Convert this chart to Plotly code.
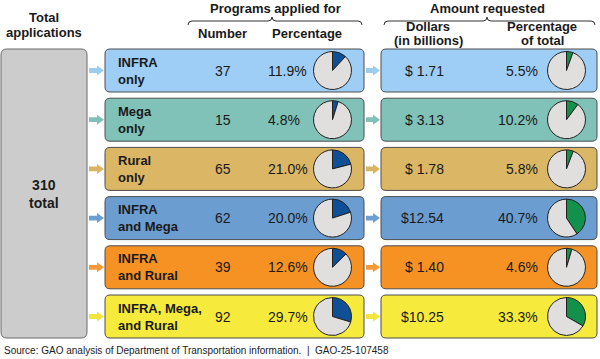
import plotly.graph_objects as go

# ---------------- data ----------------
categories = ["INFRA<br>only", "Mega<br>only", "Rural<br>only",
              "INFRA<br>and Mega", "INFRA<br>and Rural", "INFRA, Mega,<br>and Rural"]
app_counts = [37, 15, 65, 62, 39, 92]
app_pcts = [11.9, 4.8, 21.0, 20.0, 12.6, 29.7]
dollars_bn = [1.71, 3.13, 1.78, 12.54, 1.40, 10.25]
dollar_pcts = [5.5, 10.2, 5.8, 40.7, 4.6, 33.3]
total_apps = 310
row_colors = ["#9ecdf6", "#80c1b8", "#dab665", "#6b9dd1", "#f69224", "#f6eb3c"]
arrow_colors = ["#9dcdee", "#7fc0b9", "#d9b462", "#6c9fd1", "#f59a36", "#f1e53e"]

source_text = "Source: GAO analysis of Department of Transportation information.\u00a0\u00a0|\u00a0\u00a0GAO-25-107458"

# ---------------- layout geometry (pixels) ----------------
W, H = 600, 359
FONT = "Arial, Liberation Sans, sans-serif"
TXT = "#1a1a1a"
row_top0, row_pitch, row_h = 49, 49.2, 43
L0, L1 = 105, 364      # left box
R0, R1 = 381, 597      # right box
pie_r = 19
pie_left_cx, pie_right_cx = 332.5, 566.5


def rrect(x0, y0, x1, y1, r):
    return (f"M{x0+r},{y0} L{x1-r},{y0} Q{x1},{y0} {x1},{y0+r} "
            f"L{x1},{y1-r} Q{x1},{y1} {x1-r},{y1} L{x0+r},{y1} "
            f"Q{x0},{y1} {x0},{y1-r} L{x0},{y0+r} Q{x0},{y0} {x0+r},{y0} Z")


def arrow(x0, x1, cy):
    hx = x1 - 7
    return (f"M{x0},{cy-2.4} L{hx},{cy-2.4} L{hx},{cy-5} L{x1},{cy} "
            f"L{hx},{cy+5} L{hx},{cy+2.4} L{x0},{cy+2.4} Z")


shapes = []
annotations = []
fig = go.Figure()

# gray total box
last_bottom = row_top0 + row_pitch * (len(categories) - 1) + row_h
shapes.append(dict(type="path", path=rrect(1, row_top0, 87, last_bottom, 6),
                   fillcolor="#cccccc", line=dict(color="#6a6a6a", width=1),
                   xref="x", yref="y", layer="below"))
annotations.append(dict(x=44, y=(row_top0 + last_bottom) / 2, text=f"<b>{total_apps}<br>total</b>",
                        showarrow=False, font=dict(family=FONT, size=14, color=TXT),
                        xanchor="center", yanchor="middle"))

for i, cat in enumerate(categories):
    top = row_top0 + row_pitch * i
    bot = top + row_h
    cy = (top + bot) / 2
    col = row_colors[i]
    # boxes
    for (a, b) in [(L0, L1), (R0, R1)]:
        shapes.append(dict(type="path", path=rrect(a, top, b, bot, 5), fillcolor=col,
                           line=dict(color="#4d4d4d", width=1), xref="x", yref="y", layer="below"))
    # arrows
    shapes.append(dict(type="path", path=arrow(89, 104, cy), fillcolor=arrow_colors[i],
                       line=dict(width=0), xref="x", yref="y", layer="below"))
    shapes.append(dict(type="path", path=arrow(366, 380, cy), fillcolor=arrow_colors[i],
                       line=dict(width=0), xref="x", yref="y", layer="below"))
    # label
    annotations.append(dict(x=116, y=cy, text=f"<b>{cat}</b>", showarrow=False, align="left",
                            font=dict(family=FONT, size=13, color=TXT),
                            xanchor="left", yanchor="middle"))
    # values
    annotations.append(dict(x=213, y=cy, text=f"{app_counts[i]}", showarrow=False,
                            font=dict(family=FONT, size=14, color=TXT), xanchor="left", yanchor="middle"))
    annotations.append(dict(x=266, y=cy, text=f"{app_pcts[i]:.1f}%", showarrow=False,
                            font=dict(family=FONT, size=14, color=TXT), xanchor="left", yanchor="middle"))
    annotations.append(dict(x=446, y=cy, text=f"${dollars_bn[i]:5.2f}".replace(" ", "\u00a0"),
                            showarrow=False, font=dict(family=FONT, size=14, color=TXT),
                            xanchor="right", yanchor="middle"))
    annotations.append(dict(x=540, y=cy, text=f"{dollar_pcts[i]:.1f}%", showarrow=False,
                            font=dict(family=FONT, size=14, color=TXT), xanchor="right", yanchor="middle"))
    # pies
    for cx, val, c in [(pie_left_cx, app_pcts[i], "#0f4f96"), (pie_right_cx, dollar_pcts[i], "#13904a")]:
        fig.add_trace(go.Pie(
            values=[val, 100 - val], sort=False, direction="clockwise", rotation=0,
            marker=dict(colors=[c, "#e1dfdd"], line=dict(color="#222222", width=1)),
            textinfo="none", hoverinfo="skip", showlegend=False,
            domain=dict(x=[(cx - pie_r) / W, (cx + pie_r) / W],
                        y=[1 - (cy + pie_r) / H, 1 - (cy - pie_r) / H])))

# headers
def hdr(x, y, t, size=13):
    annotations.append(dict(x=x, y=y, text=f"<b>{t}</b>", showarrow=False,
                            font=dict(family=FONT, size=size, color=TXT),
                            xanchor="center", yanchor="middle"))

hdr(44, 17, "Total")
hdr(44, 32, "applications")
hdr(275, 8, "Programs applied for")
hdr(222, 33, "Number")
hdr(307, 33, "Percentage")
hdr(487, 8, "Amount requested")
hdr(428, 26.5, "Dollars")
hdr(428, 40, "(in billions)")
hdr(542, 26.5, "Percentage")
hdr(542, 40, "of total")


def brace(x0, x1, xm, y=21):
    return (f"M{x0},{y+4} Q{x0},{y} {x0+4},{y} L{xm-4},{y} Q{xm},{y} {xm},{y-4} "
            f"Q{xm},{y} {xm+4},{y} L{x1-4},{y} Q{x1},{y} {x1},{y+4}")

shapes.append(dict(type="path", path=brace(188, 362, 272), line=dict(color="#333333", width=1),
                   xref="x", yref="y"))
shapes.append(dict(type="path", path=brace(384, 595, 487), line=dict(color="#333333", width=1),
                   xref="x", yref="y"))

annotations.append(dict(x=2, y=350, text=source_text, showarrow=False,
                        font=dict(family=FONT, size=10, color="#222222"),
                        xanchor="left", yanchor="middle"))

fig.update_layout(
    width=W, height=H, margin=dict(l=0, r=0, t=0, b=0),
    paper_bgcolor="white", plot_bgcolor="white",
    xaxis=dict(range=[0, W], visible=False, fixedrange=True),
    yaxis=dict(range=[H, 0], visible=False, fixedrange=True),
    shapes=shapes, annotations=annotations, showlegend=False,
)

fig.write_html("out.html", config={"displayModeBar": False},
               post_script="document.body.style.margin='0';document.body.style.overflow='hidden';")
